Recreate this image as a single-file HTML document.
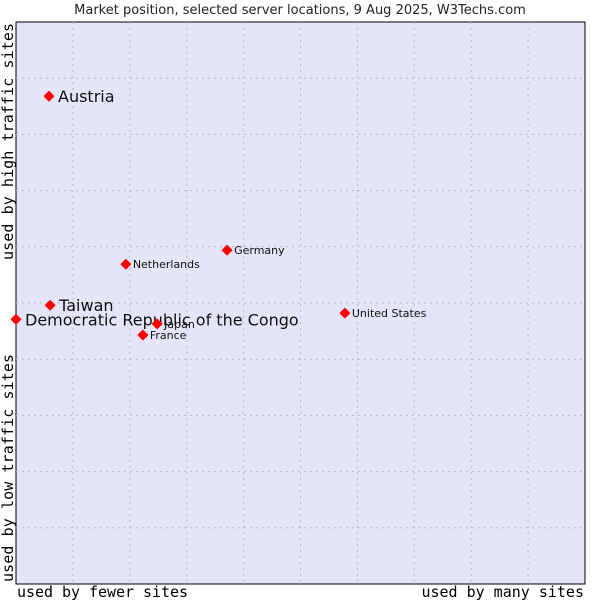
<!DOCTYPE html>
<html><head><meta charset="utf-8"><style>
body{margin:0;background:#fff;}
svg{display:block;font-family:"DejaVu Sans","Liberation Sans",sans-serif;}
</style></head><body>
<svg id="chart" width="600" height="600">
<text x="300" y="14" text-anchor="middle" font-size="13" fill="#222">Market position, selected server locations, 9 Aug 2025, W3Techs.com</text>
<rect x="16" y="22" width="569" height="562" fill="#e4e5f8" stroke="#000" stroke-width="1"/>
<g id="grid"></g>
<g id="marks"></g>
<text x="17" y="597" font-family="DejaVu Sans Mono,Liberation Mono,monospace" font-size="15" fill="#000" textLength="171">used by fewer sites</text>
<text x="584" y="597" text-anchor="end" font-family="DejaVu Sans Mono,Liberation Mono,monospace" font-size="15" fill="#000">used by many sites</text>
<text transform="translate(13,582) rotate(-90)" font-family="DejaVu Sans Mono,Liberation Mono,monospace" font-size="15" fill="#000" textLength="228">used by low traffic sites</text>
<text transform="translate(13,260) rotate(-90)" font-family="DejaVu Sans Mono,Liberation Mono,monospace" font-size="15" fill="#000" textLength="237">used by high traffic sites</text>
</svg>
<script>
const names=["Austria","Taiwan","Democratic Republic of the Congo","Japan","France","Netherlands","Germany","United States"];
const xVals=[5.8,6.0,0,24.8,22.3,19.3,37.1,57.8];
const yVals=[86.8,49.6,47.1,46.3,44.3,56.9,59.4,48.2];
const big=[true,true,true,false,false,false,false,false];
const L=16,T=22,W=569,H=562;
const sx=v=>L+v/100*W, sy=v=>T+H-v/100*H;
const ns="http://www.w3.org/2000/svg";
const grid=document.getElementById('grid');
for(let i=1;i<10;i++){
  const a=document.createElementNS(ns,'line');
  
  
  a.setAttribute('x1',sx(i*10));a.setAttribute('x2',sx(i*10));a.setAttribute('y1',T);a.setAttribute('y2',T+H);
  a.setAttribute('stroke','#bbb');a.setAttribute('stroke-dasharray','2,4');grid.appendChild(a);
  const b=document.createElementNS(ns,'line');
  
  
  b.setAttribute('y1',sy(i*10));b.setAttribute('y2',sy(i*10));b.setAttribute('x1',L);b.setAttribute('x2',L+W);
  b.setAttribute('stroke','#bbb');b.setAttribute('stroke-dasharray','2,4');grid.appendChild(b);
}
const marks=document.getElementById('marks');
names.forEach((n,i)=>{
  const x=sx(xVals[i]),y=sy(yVals[i]);
  const d=document.createElementNS(ns,'path');
  
  
  d.setAttribute('d',`M${x-4.5},${y} L${x},${y-4.5} L${x+4.5},${y} L${x},${y+4.5} Z`);
  d.setAttribute('fill','#f00');d.setAttribute('stroke','#f00');d.setAttribute('stroke-width','1.5');d.setAttribute('stroke-linejoin','round');
  marks.appendChild(d);
  const t=document.createElementNS(ns,'text');
  
  
  t.setAttribute('x',x+(big[i]?9:7));t.setAttribute('y',y+(big[i]?6:4));
  t.setAttribute('font-size',big[i]?16:11);t.setAttribute('fill','#111');
  t.textContent=n;marks.appendChild(t);
});
</script>
</body></html>
